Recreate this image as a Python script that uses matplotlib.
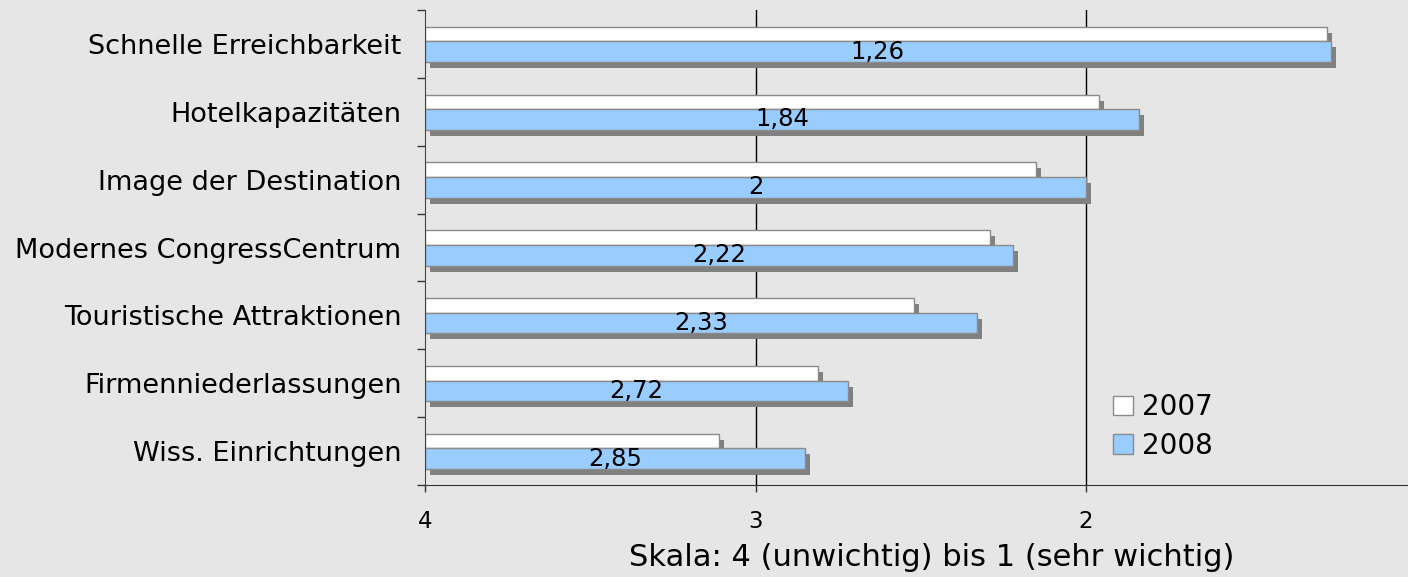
"""
Bewertung der Standortfaktoren 2007 vs. 2008 als horizontales Balkendiagramm
mit Schatten, Skala von 4 (unwichtig) bis 1 (sehr wichtig).
"""
import matplotlib
matplotlib.use("Agg")
import matplotlib.pyplot as plt
import matplotlib.patheffects as pe
import numpy as np

categories = [
    "Schnelle Erreichbarkeit",
    "Hotelkapazitäten",
    "Image der Destination",
    "Modernes CongressCentrum",
    "Touristische Attraktionen",
    "Firmenniederlassungen",
    "Wiss. Einrichtungen",
]
values_2007 = [1.27, 1.96, 2.15, 2.29, 2.52, 2.81, 3.11]
values_2008 = [1.26, 1.84, 2.00, 2.22, 2.33, 2.72, 2.85]
years = ["2007", "2008"]
x_ticks = [4, 3, 2]

BG = "#e6e6e6"
BLUE = "#99ccff"
SHADOW = "#808080"
EDGE = "#8a8a8a"
BASE = 4.0


def shadow():
    return [pe.SimplePatchShadow(offset=(3.6, -4.3), shadow_rgbFace=SHADOW, alpha=1.0),
            pe.Normal()]


def fmt(v):
    s = f"{v:.2f}".rstrip("0").rstrip(".")
    return s.replace(".", ",")


fig = plt.figure(figsize=(14.08, 5.77), dpi=100)
fig.patch.set_facecolor(BG)
ax = fig.add_axes([425 / 1408, 1 - 485 / 577, 983 / 1408, 475 / 577])
ax.set_facecolor(BG)

y = np.arange(len(categories))
h07, h08 = 0.215, 0.305
y07 = y - 0.039 - h07 / 2
y08 = y - 0.039 + h08 / 2

# bars grow from 4 towards 1 (axis is inverted)
w07 = [v - BASE for v in values_2007]
w08 = [v - BASE for v in values_2008]
b07 = ax.barh(y07, w07, height=h07, left=BASE, color="white", edgecolor=EDGE,
              linewidth=1.0, label=years[0], zorder=3)
b08 = ax.barh(y08, w08, height=h08, left=BASE, color=BLUE, edgecolor=EDGE,
              linewidth=1.0, label=years[1], zorder=3)
for bar in list(b07) + list(b08):
    bar.set_path_effects(shadow())

for yy, v in zip(y08, values_2008):
    ax.text((BASE + v) / 2, yy, fmt(v), ha="center", va="center",
            fontsize=17.5, color="black", zorder=5)

ax.set_xlim(4, 4 - 983 / 330.5)
ax.set_ylim(len(categories) - 0.5, -0.5)

for xv in x_ticks[1:]:
    ax.axvline(xv, color="black", linewidth=1.0, zorder=1)

ax.set_xticks(x_ticks)
ax.set_xticklabels([str(t) for t in x_ticks])
ax.tick_params(axis="x", length=5, width=1, color="#333333", pad=13, labelsize=16.5)

ax.set_yticks(y)
ax.set_yticklabels(categories)
ax.set_yticks(np.arange(-0.5, len(categories)), minor=True)
ax.tick_params(axis="y", which="major", length=0, pad=17, labelsize=19.5)
ax.tick_params(axis="y", which="minor", length=6, width=1, color="#333333")

for side in ("top", "right"):
    ax.spines[side].set_visible(False)
ax.spines["left"].set_color("#444444")
ax.spines["bottom"].set_color("#333333")
ax.spines["left"].set_zorder(4)

ax.set_xlabel("Skala: 4 (unwichtig) bis 1 (sehr wichtig)", fontsize=22)
ax.xaxis.set_label_coords(0.5158, -0.122)

# plain patch behind the legend, hiding the grid line at 2
ax.add_patch(plt.Rectangle((0.6745, 0.046), 0.15, 0.16, transform=ax.transAxes,
                           facecolor=BG, edgecolor="none", zorder=2))

leg = ax.legend(loc="upper left", bbox_to_anchor=(0.677, 0.240), fontsize=20,
                frameon=False, handlelength=0.72, handleheight=0.72,
                handletextpad=0.35, labelspacing=0.37, borderpad=0.3)
leg.set_zorder(6)
for hnd in leg.legend_handles:
    hnd.set_path_effects([])

fig.savefig("out.png", dpi=100, facecolor=fig.get_facecolor())
